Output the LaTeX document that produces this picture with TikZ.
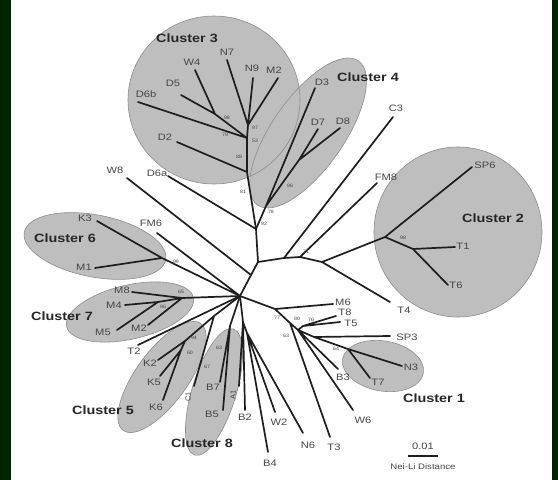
\documentclass[tikz,border=0pt]{standalone}
\usepackage{fontspec}
\setmainfont{Liberation Sans}
\definecolor{bgg}{RGB}{0,38,0}
\definecolor{clfill}{RGB}{190,190,190}
\definecolor{clline}{RGB}{140,140,140}
\definecolor{lnc}{RGB}{30,30,30}
\definecolor{txc}{RGB}{70,70,70}
\begin{document}
\begin{tikzpicture}[x=1pt,y=-1pt,
  br/.style={line width=1.7pt, draw=lnc, line cap=round},
  lf/.style={font=\fontsize{9.3}{9.3}\selectfont, text=txc, inner sep=0pt, xscale=1.2},
  lfs/.style={font=\fontsize{7.5}{7.5}\selectfont, text=txc, inner sep=0pt},
  bs/.style={font=\fontsize{4.8}{5}\selectfont, text=txc, inner sep=0pt, xscale=1.1},
  cl/.style={font=\bfseries\fontsize{12}{12}\selectfont, text=black!85, inner sep=0pt, xscale=1.2},
  clu/.style={fill=clfill},
  clb/.style={draw=clline, line width=0.6pt}]
\useasboundingbox (0,0) rectangle (558,480);
\fill[bgg] (0,0) rectangle (558,480);
\fill[white] (11,0) rectangle (552,480);

% ---------- cluster ellipses ----------
\foreach \s in {clu,clb}{
  \path[\s] (214,100) ellipse (86 and 84);
  \path[\s, rotate around={55:(308,133)}] (308,133) ellipse (88 and 36);
  \path[\s] (458,232) ellipse (84 and 85);
  \path[\s, rotate around={-11:(95,246)}] (95,246) ellipse (72 and 31);
  \path[\s, rotate around={13:(130,312)}] (130,312) ellipse (65 and 27);
  \path[\s, rotate around={54:(162,377)}] (162,377) ellipse (66 and 26);
  \path[\s, rotate around={73:(214,392)}] (214,392) ellipse (66 and 22);
  \path[\s, rotate around={-10:(383,366)}] (383,366) ellipse (41 and 25);
}

% ---------- internal nodes ----------
\coordinate (H) at (240,296);
\coordinate (P) at (258,262);
\coordinate (Q) at (251,275);
\coordinate (n92) at (256,229);
\coordinate (n78) at (266,206);
\coordinate (n86) at (299,160);
\coordinate (c3c) at (247,172);
\coordinate (c3b) at (247,138);
\coordinate (c3a) at (248,125);
\coordinate (nWD) at (215,114);
\coordinate (na) at (284,258);
\coordinate (nb) at (300,257);
\coordinate (n71) at (322,262);
\coordinate (n98) at (385,237);
\coordinate (nT) at (413,249);
\coordinate (n6) at (162,258);
\coordinate (n7b) at (158,302);
\coordinate (n7c) at (182,298);
\coordinate (n5) at (185,341);
\coordinate (n5b) at (181,350);
\coordinate (nC) at (214,316);
\coordinate (n8) at (230,326);
\coordinate (D1) at (243,322);
\coordinate (D2) at (247,333);
\coordinate (R1) at (275,309);
\coordinate (R2) at (290,323);
\coordinate (R3) at (298,330);
\coordinate (R4) at (303,326);
\coordinate (R5) at (314,337);
\coordinate (n1) at (348,349);

% ---------- leaf ends ----------
\coordinate (eW4) at (195,70);
\coordinate (eD5) at (181,95);
\coordinate (eD6b) at (138,102);
\coordinate (eN7) at (227,60);
\coordinate (eN9) at (253,78);
\coordinate (eM2) at (278,78);
\coordinate (eD2) at (177,142);
\coordinate (eD6a) at (168,176);
\coordinate (eW8) at (127,178);
\coordinate (eD3) at (315,88);
\coordinate (eD7) at (318,129);
\coordinate (eD8) at (340,128);
\coordinate (eC3) at (393,117);
\coordinate (eFM8) at (377,183);
\coordinate (eSP6) at (472,167);
\coordinate (eT1) at (455,247);
\coordinate (eT6) at (448,285);
\coordinate (eT4) at (390,302);
\coordinate (eFM6) at (157,233);
\coordinate (eK3) at (97,221);
\coordinate (eM1) at (95,268);
\coordinate (eM8) at (132,292);
\coordinate (eM4) at (125,305);
\coordinate (eM5) at (117,330);
\coordinate (eM2b) at (148,325);
\coordinate (eT2) at (138,345);
\coordinate (eK2) at (158,360);
\coordinate (eK5) at (160,376);
\coordinate (eK6) at (163,400);
\coordinate (eC1) at (194,386);
\coordinate (eB7) at (220,382);
\coordinate (eB5) at (223,410);
\coordinate (eA1) at (239,386);
\coordinate (eB2) at (245,410);
\coordinate (eB4) at (268,452);
\coordinate (eW2) at (275,412);
\coordinate (eN6) at (303,433);
\coordinate (eT3) at (330,437);
\coordinate (eW6) at (353,410);
\coordinate (eB3) at (338,369);
\coordinate (eM6) at (333,304);
\coordinate (eT8) at (336,316);
\coordinate (eT5) at (340,322);
\coordinate (eSP3) at (390,336);
\coordinate (eN3) at (402,366);
\coordinate (eT7) at (370,378);

% ---------- branches ----------
\draw[br] (eN7) -- (c3a) (eN9) -- (c3a) (eM2) -- (c3a);
\draw[br] (eW4) -- (nWD) (eD5) -- (nWD) (nWD) -- (c3b) (eD6b) -- (c3b);
\draw[br] (c3a) -- (c3b) -- (c3c) -- (n92);
\draw[br] (eD2) -- (c3c);
\draw[br] (n92) -- (n78) (n78) -- (eD3) (n78) -- (n86) (n86) -- (eD7) (n86) -- (eD8);
\draw[br] (eD6a) -- (n92) (n92) -- (P) (P) -- (Q) (Q) -- (H) (eW8) -- (Q);
\draw[br] (P) -- (na) (na) -- (eC3) (na) -- (nb) (nb) -- (eFM8) (nb) -- (n71);
\draw[br] (n71) -- (n98) (n71) -- (eT4) (n98) -- (eSP6) (n98) -- (nT) (nT) -- (eT1) (nT) -- (eT6);
\draw[br] (eFM6) -- (H) (eK3) -- (n6) (eM1) -- (n6) (n6) -- (H);
\draw[br] (eM8) -- (n7c) (eM4) -- (n7b) (eM5) -- (n7b) (n7b) -- (n7c) (eM2b) -- (n7c) (n7c) -- (H);
\draw[br] (eT2) -- (H);
\draw[br] (eK2) -- (n5) (eK5) -- (n5b) (eK6) -- (n5b) (n5b) -- (n5) (n5) -- (nC) (eC1) -- (nC) (nC) -- (H);
\draw[br] (eB7) -- (n8) (eB5) -- (n8) (n8) -- (H);
\draw[br] (H) -- (D1) (D1) -- (eA1) (D1) -- (eB2) (D1) -- (D2) (D2) -- (eB4) (D2) -- (eW2) (D2) -- (eN6);
\draw[br] (H) -- (R1) (R1) -- (eM6) (R1) -- (R2) (R2) -- (eT3) (R2) -- (R3) (R3) -- (eW6) (R3) -- (eB3)
  (R3) -- (R4) (R4) -- (eT8) (R4) -- (eT5) (R3) -- (R5) (R5) -- (eSP3) (R5) -- (n1) (n1) -- (eN3) (n1) -- (eT7);

% ---------- leaf labels ----------
\node[lf] (lW4) at (192,62) {W4};
\node[lf] (lD5) at (173,83) {D5};
\node[lf] (lD6b) at (146,94) {D6b};
\node[lf] (lN7) at (227,52) {N7};
\node[lf] (lN9) at (252,68) {N9};
\node[lf] (lM2) at (274,70) {M2};
\node[lf] (lD2) at (165,137) {D2};
\node[lf] (lD6a) at (157,173) {D6a};
\node[lf] (lW8) at (115,170) {W8};
\node[lf] (lD3) at (322,82) {D3};
\node[lf] (lD7) at (318,122) {D7};
\node[lf] (lD8) at (343,121) {D8};
\node[lf] (lC3) at (396,108) {C3};
\node[lf] (lFM8) at (386,177) {FM8};
\node[lf] (lSP6) at (485,165) {SP6};
\node[lf] (lT1) at (463,246) {T1};
\node[lf] (lT6) at (456,285) {T6};
\node[lf] (lT4) at (404,310) {T4};
\node[lf] (lK3) at (85,218) {K3};
\node[lf] (lM1) at (84,267) {M1};
\node[lf] (lFM6) at (151,223) {FM6};
\node[lf] (lM8) at (122,290) {M8};
\node[lf] (lM4) at (114,305) {M4};
\node[lf] (lM5) at (103,332) {M5};
\node[lf] (lM2b) at (139,328) {M2};
\node[lf] (lT2) at (134,351) {T2};
\node[lf] (lK2) at (150,363) {K2};
\node[lf] (lK5) at (154,382) {K5};
\node[lf] (lK6) at (156,407) {K6};
\node[lfs, rotate=90] (lC1) at (188,397) {C1};
\node[lf] (lB7) at (213,387) {B7};
\node[lf] (lB5) at (212,414) {B5};
\node[lfs, rotate=90] (lA1) at (233,395) {A1};
\node[lf] (lB2) at (245,417) {B2};
\node[lf] (lB4) at (270,463) {B4};
\node[lf] (lW2) at (279,422) {W2};
\node[lf] (lN6) at (308,445) {N6};
\node[lf] (lT3) at (334,447) {T3};
\node[lf] (lW6) at (363,420) {W6};
\node[lf] (lB3) at (343,377) {B3};
\node[lf] (lM6) at (343,302) {M6};
\node[lf] (lT8) at (345,312) {T8};
\node[lf] (lT5) at (351,323) {T5};
\node[lf] (lSP3) at (407,337) {SP3};
\node[lf] (lN3) at (411,367) {N3};
\node[lf] (lT7) at (378,382) {T7};

% ---------- bootstrap values ----------
\node[bs] (b1) at (227,118) {98};
\node[bs] (b2) at (225,135) {79};
\node[bs] (b3) at (255,128) {97};
\node[bs] (b4) at (255,141) {53};
\node[bs] (b5) at (239,157) {88};
\node[bs] (b6) at (243,192) {81};
\node[bs] (b7) at (271,212) {78};
\node[bs] (b8) at (264,224) {92};
\node[bs] (b9) at (290,186) {86};
\node[bs] (b10) at (306,252) {71};
\node[bs] (b11) at (403,238) {98};
\node[bs] (b12) at (176,262) {99};
\node[bs] (b13) at (181,292) {65};
\node[bs] (b14) at (163,307) {96};
\node[bs] (b15) at (194,338) {94};
\node[bs] (b16) at (190,353) {60};
\node[bs] (b17) at (207,367) {67};
\node[bs] (b18) at (219,348) {63};
\node[bs] (b19) at (277,318) {77};
\node[bs] (b20) at (297,319) {80};
\node[bs] (b21) at (311,320) {76};
\node[bs] (b22) at (286,336) {63};
\node[bs] (b23) at (336,349) {64};

% ---------- cluster labels ----------
\node[cl] (c3) at (187,38) {Cluster 3};
\node[cl] (c4) at (368,77) {Cluster 4};
\node[cl] (c2) at (493,218) {Cluster 2};
\node[cl] (c6) at (65,238) {Cluster 6};
\node[cl] (c7) at (62,316) {Cluster 7};
\node[cl] (c5) at (103,410) {Cluster 5};
\node[cl] (c8) at (202,443) {Cluster 8};
\node[cl] (c1) at (434,398) {Cluster 1};

% ---------- scale bar ----------
\node[lf] (sc) at (423,446) {0.01};
\coordinate (sbl) at (408,456);
\coordinate (sbr) at (438,456);
\draw[line width=1.6pt, draw=lnc] (sbl) -- (sbr);
\node[lf, font=\fontsize{8}{8}\selectfont] (nl) at (423,467) {Nei-Li Distance};
\end{tikzpicture}
\end{document}
